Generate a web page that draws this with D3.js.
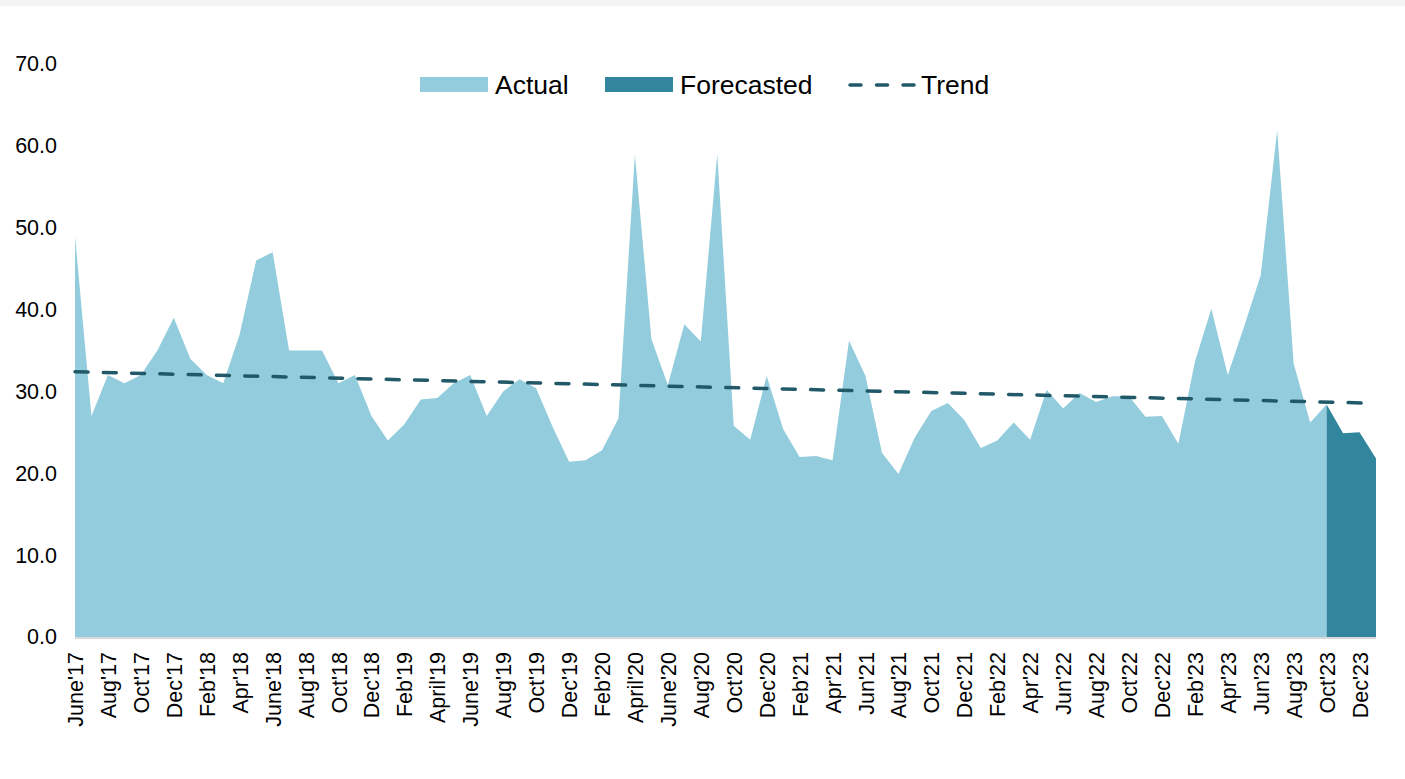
<!DOCTYPE html>
<html lang="en">
  <head>
    <meta charset="utf-8">
    <title>Actual vs Forecasted</title>
    <script type="text/javascript" src="https://cdn.jsdelivr.net/npm/d3@7"></script>
    <style type="text/css">
      body { margin: 0; background: #ffffff; }
      svg { display: block; font-family: "Liberation Sans", Arial, sans-serif; }
    </style>
  </head>
  <body>
    <script type="text/javascript">

      //Width and height
      var w = 1405;
      var h = 779;

      //Tick labels, one every second month (June'17 .. Dec'23)
      var tickLabels = ["June'17", "Aug'17", "Oct'17", "Dec'17", "Feb'18", "Apr'18", "June'18", "Aug'18",
                        "Oct'18", "Dec'18", "Feb'19", "April'19", "June'19", "Aug'19", "Oct'19", "Dec'19",
                        "Feb'20", "April'20", "June'20", "Aug'20", "Oct'20", "Dec'20", "Feb'21", "Apr'21",
                        "Jun'21", "Aug'21", "Oct'21", "Dec'21", "Feb'22", "Apr'22", "Jun'22", "Aug'22",
                        "Oct'22", "Dec'22", "Feb'23", "Apr'23", "Jun'23", "Aug'23", "Oct'23", "Dec'23"];

      //Monthly actual values, June'17 .. Oct'23
      var actualValues = [49, 27, 32, 31, 32, 35, 39, 34, 32, 31,
                          37, 46, 47, 35, 35, 35, 31, 32, 27, 24,
                          26, 29, 29.2, 31, 32, 27, 30, 31.5, 30.4, 25.7,
                          21.4, 21.6, 22.8, 26.7, 58.9, 36.4, 30.8, 38.2, 36.1, 59.0,
                          25.8, 24.1, 31.9, 25.4, 22.0, 22.1, 21.6, 36.2, 31.9, 22.5,
                          19.9, 24.4, 27.6, 28.6, 26.5, 23.1, 24.0, 26.2, 24.1, 30.2,
                          27.9, 29.8, 28.7, 29.4, 29.4, 26.9, 27.0, 23.6, 33.6, 40.1,
                          32.0, 38.0, 44.2, 61.9, 33.4, 26.2, 28.4];

      //Forecasted values, Oct'23 .. Jan'24
      var forecastValues = [28.4, 24.9, 25.0, 21.8];

      //Trend line end points (first and last month)
      var trendValues = [32.4, 28.55];

      var yTicks = [0, 10, 20, 30, 40, 50, 60, 70];

      var nMonths = actualValues.length + forecastValues.length - 1;
      var forecastStart = actualValues.length - 1;

      var colors = {
        actual: "#93cddd",
        forecast: "#31859c",
        trend: "#215968"
      };

      //Scales
      var xScale = d3.scaleLinear()
                     .domain([0, nMonths - 1])
                     .range([75, 1376]);

      var yScale = d3.scaleLinear()
                     .domain([0, 70])
                     .range([637, 64]);

      //Create SVG element
      var svg = d3.select("body")
                  .append("svg")
                  .attr("width", w)
                  .attr("height", h);

      //Faint frame band at the top
      svg.append("rect")
         .attr("x", 0)
         .attr("y", 0)
         .attr("width", w)
         .attr("height", 6)
         .style("fill", "#f3f3f3");

      var area = d3.area()
                   .x(function(d) { return xScale(d.i); })
                   .y0(yScale(0))
                   .y1(function(d) { return yScale(d.v); });

      var actualData = actualValues.map(function(v, i) { return { i: i, v: v }; });
      var forecastData = forecastValues.map(function(v, i) { return { i: forecastStart + i, v: v }; });

      svg.append("path")
         .datum(actualData)
         .attr("d", area)
         .style("fill", colors.actual);

      svg.append("path")
         .datum(forecastData)
         .attr("d", area)
         .style("fill", colors.forecast);

      //Baseline
      svg.append("line")
         .attr("x1", xScale(0))
         .attr("x2", xScale(nMonths - 1))
         .attr("y1", yScale(0) + 1)
         .attr("y2", yScale(0) + 1)
         .style("stroke", "#d9d9d9")
         .style("stroke-width", 2);

      //Trend line
      svg.append("line")
         .attr("x1", xScale(0))
         .attr("y1", yScale(trendValues[0]))
         .attr("x2", xScale(nMonths - 1))
         .attr("y2", yScale(trendValues[1]))
         .style("stroke", colors.trend)
         .style("stroke-width", 3.5)
         .style("stroke-linecap", "round")
         .style("stroke-dasharray", "13,15.3");

      //Y axis
      var yAxis = d3.axisLeft(yScale)
                    .tickValues(yTicks)
                    .tickFormat(d3.format(".1f"))
                    .tickSize(0)
                    .tickPadding(0);

      var yG = svg.append("g")
                  .attr("transform", "translate(57,0)")
                  .call(yAxis);

      yG.select(".domain").remove();
      yG.selectAll("text")
        .style("font-size", "21.5px")
        .style("fill", "#000");

      //X axis
      var xAxis = d3.axisBottom(xScale)
                    .tickValues(tickLabels.map(function(d, i) { return i * 2; }))
                    .tickFormat(function(d) { return tickLabels[d / 2]; })
                    .tickSize(0);

      var xG = svg.append("g")
                  .attr("transform", "translate(0,652)")
                  .call(xAxis);

      xG.select(".domain").remove();
      xG.selectAll("text")
        .attr("transform", "rotate(-90)")
        .attr("x", 0)
        .attr("y", 0)
        .attr("dy", "0.35em")
        .style("text-anchor", "end")
        .style("font-size", "21.5px")
        .style("fill", "#000");

      //Legend
      var legend = svg.append("g")
                      .style("font-size", "26.5px");

      legend.append("rect")
            .attr("x", 420).attr("y", 77)
            .attr("width", 68).attr("height", 15)
            .style("fill", colors.actual);

      legend.append("text")
            .attr("x", 495).attr("y", 85)
            .attr("dy", "0.35em")
            .text("Actual");

      legend.append("rect")
            .attr("x", 605).attr("y", 77)
            .attr("width", 68).attr("height", 15)
            .style("fill", colors.forecast);

      legend.append("text")
            .attr("x", 680).attr("y", 85)
            .attr("dy", "0.35em")
            .text("Forecasted");

      legend.append("line")
            .attr("x1", 850).attr("x2", 914)
            .attr("y1", 85).attr("y2", 85)
            .style("stroke", colors.trend)
            .style("stroke-width", 3.5)
            .style("stroke-linecap", "round")
            .style("stroke-dasharray", "11,15.5");

      legend.append("text")
            .attr("x", 921).attr("y", 85)
            .attr("dy", "0.35em")
            .text("Trend");

    </script>
  </body>
</html>
